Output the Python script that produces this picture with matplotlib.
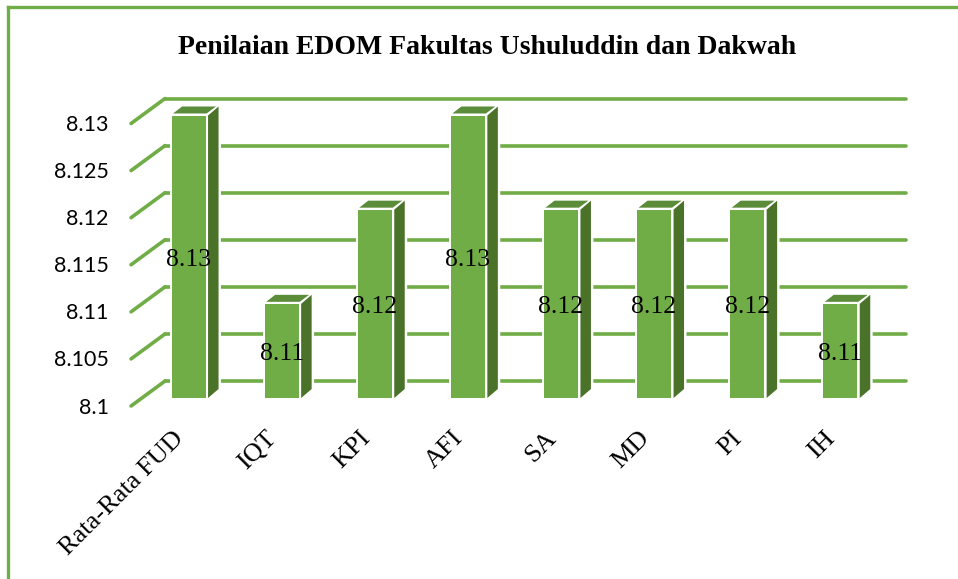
import numpy as np
import matplotlib
matplotlib.use('Agg')
import matplotlib.pyplot as plt
from matplotlib.lines import Line2D
from matplotlib.patches import Polygon
from matplotlib.transforms import ScaledTranslation

categories = ['Rata-Rata FUD', 'IQT', 'KPI', 'AFI', 'SA', 'MD', 'PI', 'IH']
values = [8.13, 8.11, 8.12, 8.13, 8.12, 8.12, 8.12, 8.11]
y_ticks = [8.1, 8.105, 8.11, 8.115, 8.12, 8.125, 8.13]
y_tick_labels = ['8.1', '8.105', '8.11', '8.115', '8.12', '8.125', '8.13']
title = 'Penilaian EDOM Fakultas Ushuluddin dan Dakwah'

GREEN = '#70AD47'
SIDE = '#4A7229'
TOP = '#5B8C3A'
SERIF = 'Liberation Serif'

W, H = 958, 579
fig = plt.figure(figsize=(W / 100, H / 100), dpi=100)
# front plane of the bars, in pixels of the picture
left, right, top, bottom = 142.0, 886.8, 115.5, 398.0
ax = fig.add_axes([left / W, 1 - bottom / H, (right - left) / W, (bottom - top) / H])
ax.set_xlim(-0.5, 7.5)
ax.set_ylim(8.1, 8.13)
for s in ax.spines.values():
    s.set_visible(False)

# one picture pixel in data units
px_x = 1 / ((right - left) / 8)
px_y = 0.03 / (bottom - top)

x = np.arange(len(categories))
bar_w = 34 * px_x
gap_x = 2.5 * px_x
depth_x = 10.5 * px_x
depth_y = 9 * px_y

# walls and floor gridlines
grid_kw = dict(color=GREEN, lw=2.6, solid_capstyle='round', clip_on=False, zorder=1)
for v in y_ticks:
    ax.plot([(131 - 188.5) * px_x, (165 - 188.5) * px_x], [v - 8 * px_y, v + 17 * px_y], **grid_kw)
    ax.plot([(165 - 188.5) * px_x, (906 - 188.5) * px_x], [v + 17 * px_y, v + 17 * px_y], **grid_kw)

for xi, v in zip(x, values):
    x0 = xi - bar_w / 2
    x1 = xi + bar_w / 2
    xs = x1 + gap_x
    front = [(x0, 8.1), (x1, 8.1), (x1, v), (x0, v)]
    side = [(xs, 8.1), (xs + depth_x, 8.1 + depth_y), (xs + depth_x, v + depth_y), (xs, v)]
    cap = [(x0 + 1.5 * px_x, v + 2 * px_y), (x1 + 1 * px_x, v + 2 * px_y),
           (x1 + depth_x, v + depth_y), (x0 + depth_x, v + depth_y)]
    # white halo that cuts the gridlines around the bar
    for pts in (front, side, cap):
        ax.add_patch(Polygon(pts, closed=True, fc='white', ec='white', lw=3.5, clip_on=False, zorder=2))
    ax.add_patch(Polygon(front, closed=True, fc=GREEN, ec='none', clip_on=False, zorder=3))
    ax.add_patch(Polygon(side, closed=True, fc=SIDE, ec='none', clip_on=False, zorder=3))
    ax.add_patch(Polygon(cap, closed=True, fc=TOP, ec='none', clip_on=False, zorder=3))
    ax.annotate(f'{v:.2f}', (xi, (v + 8.1) / 2), xytext=(0, -3 * 0.72), textcoords='offset points',
                ha='center', va='center', family=SERIF, fontsize=18.5, color='black', zorder=4)

ax.set_yticks(y_ticks, y_tick_labels)
ax.tick_params(axis='y', length=0, pad=24, labelsize=15.5)
offset_y = ScaledTranslation(0, -7.5 / 100, fig.dpi_scale_trans)
for lab in ax.get_yticklabels():
    lab.set_family('Lato')
    lab.set_color('black')
    lab.set_transform(lab.get_transform() + offset_y)

ax.set_xticks(x, categories, rotation=45, ha='right', va='top', rotation_mode='anchor')
ax.tick_params(axis='x', length=0, pad=21, labelsize=19)
offset_x = ScaledTranslation(-16 / 100, 0, fig.dpi_scale_trans)
for lab in ax.get_xticklabels():
    lab.set_family(SERIF)
    lab.set_transform(lab.get_transform() + offset_x)

fig.text(487 / W, 1 - 47 / H, title, ha='center', va='center', family=SERIF,
         weight='bold', fontsize=20)

# chart frame, only left and top sides fall inside the picture
frame_kw = dict(color=GREEN, lw=2.4, transform=fig.transFigure)
fig.add_artist(Line2D([8 / W, 8 / W], [0, 1 - 6.5 / H], **frame_kw))
fig.add_artist(Line2D([8 / W, 1], [1 - 6.5 / H, 1 - 6.5 / H], **frame_kw))

fig.savefig('out.png', dpi=100)
